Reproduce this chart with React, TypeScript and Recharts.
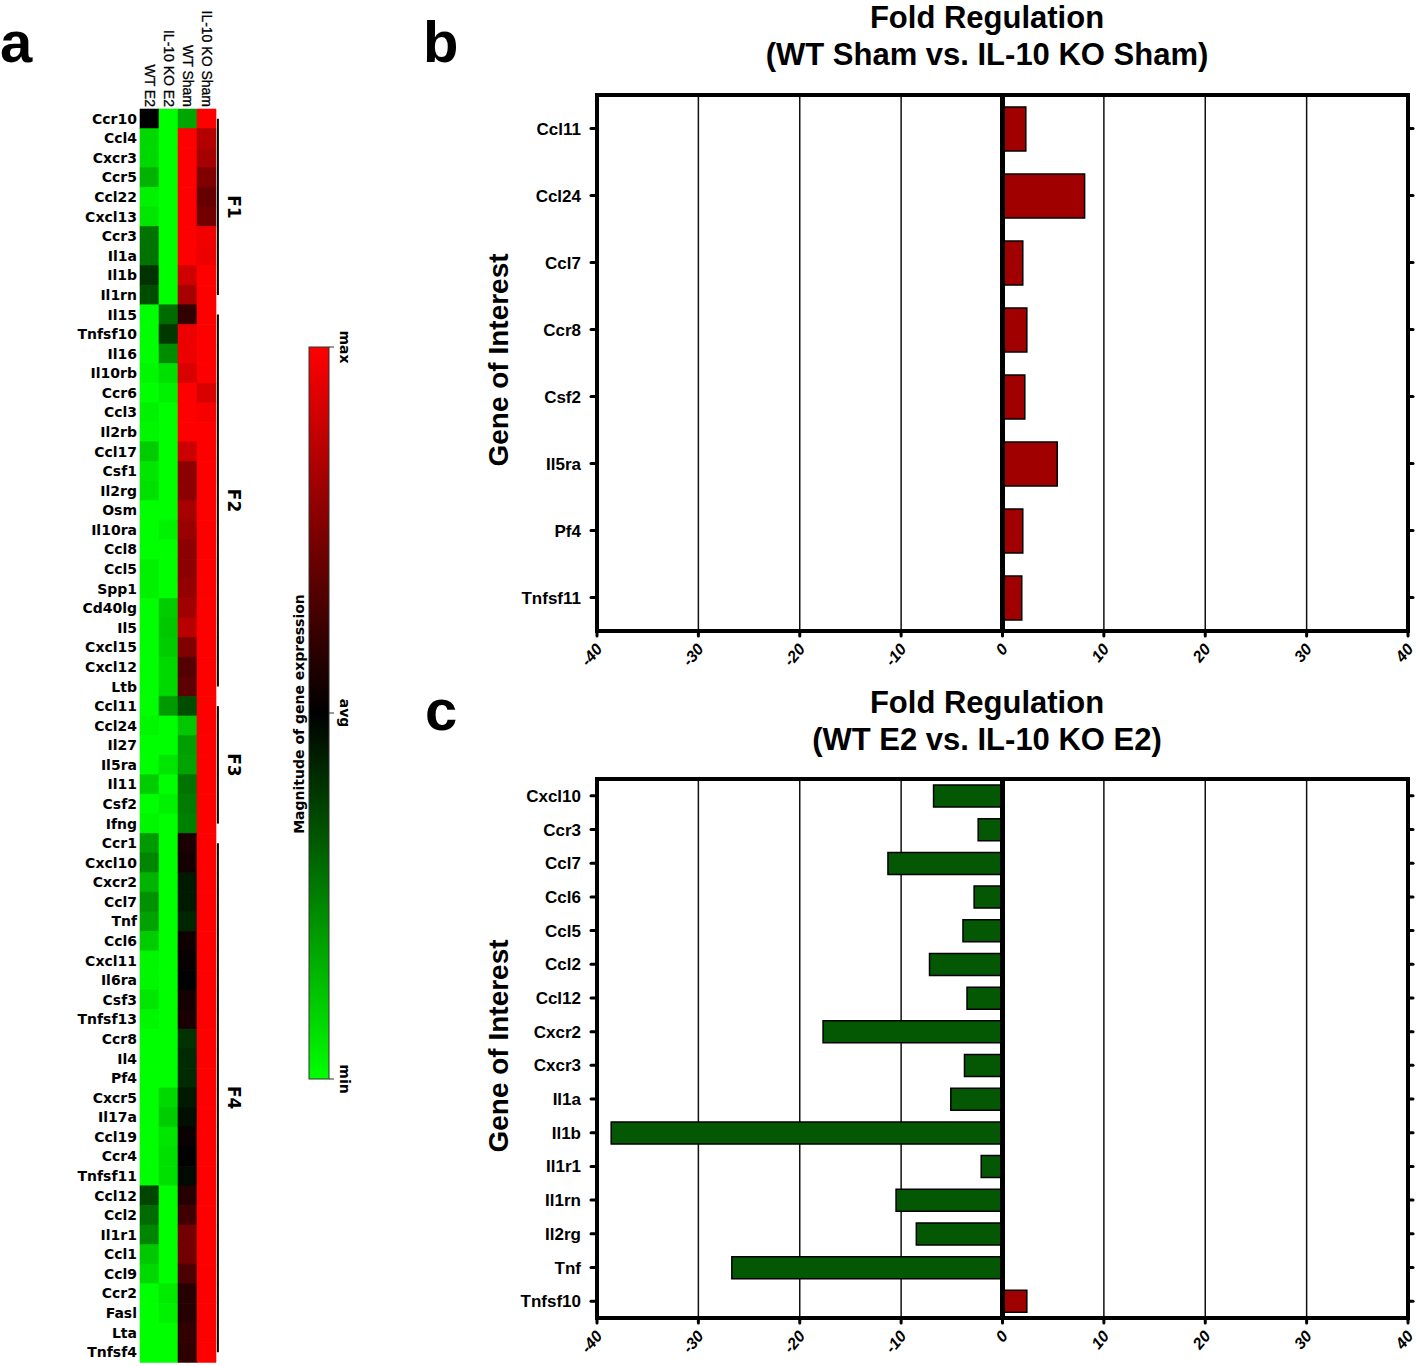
import React from 'react';
import { BarChart, Bar, XAxis, YAxis, CartesianGrid, ReferenceLine, Cell } from 'recharts';

// ---------- Panel a: heatmap data ----------
const heatGenes = [
  'Ccr10', 'Ccl4', 'Cxcr3', 'Ccr5', 'Ccl22', 'Cxcl13', 'Ccr3', 'Il1a', 'Il1b', 'Il1rn',
  'Il15', 'Tnfsf10', 'Il16', 'Il10rb', 'Ccr6', 'Ccl3', 'Il2rb', 'Ccl17', 'Csf1', 'Il2rg',
  'Osm', 'Il10ra', 'Ccl8', 'Ccl5', 'Spp1', 'Cd40lg', 'Il5', 'Cxcl15', 'Cxcl12', 'Ltb',
  'Ccl11', 'Ccl24', 'Il27', 'Il5ra', 'Il11', 'Csf2', 'Ifng',
  'Ccr1', 'Cxcl10', 'Cxcr2', 'Ccl7', 'Tnf', 'Ccl6', 'Cxcl11', 'Il6ra', 'Csf3', 'Tnfsf13',
  'Ccr8', 'Il4', 'Pf4', 'Cxcr5', 'Il17a', 'Ccl19', 'Ccr4', 'Tnfsf11', 'Ccl12', 'Ccl2',
  'Il1r1', 'Ccl1', 'Ccl9', 'Ccr2', 'Fasl', 'Lta', 'Tnfsf4',
];
const heatColumns = ['WT E2', 'IL-10 KO E2', 'WT Sham', 'IL-10 KO Sham'];
// relative expression: -1 = min (green), 0 = avg (black), 1 = max (red)
const wtE2 = [
  0, -0.85, -0.85, -0.7, -0.95, -0.9, -0.45, -0.45, -0.2, -0.3,
  -1, -1, -1, -0.97, -1, -0.95, -0.97, -0.8, -0.9, -0.88,
  -1, -1, -1, -0.95, -0.95, -1, -1, -1, -1, -1,
  -1, -0.97, -1, -1, -0.8, -1, -0.97,
  -0.6, -0.52, -0.7, -0.57, -0.63, -0.8, -0.97, -0.97, -0.9, -0.97,
  -1, -1, -1, -1, -1, -1, -1, -1, -0.27, -0.42,
  -0.52, -0.78, -0.85, -1, -1, -1, -1,
];
const koE2 = [
  -1, -1, -1, -1, -1, -1, -1, -1, -1, -1,
  -0.42, -0.22, -0.55, -0.88, -0.95, -1, -1, -1, -1, -1,
  -1, -0.95, -1, -1, -1, -0.8, -0.78, -0.8, -0.85, -0.85,
  -0.6, -1, -1, -0.9, -1, -0.95, -1,
  -1, -1, -1, -1, -1, -1, -1, -1, -1, -1,
  -1, -1, -1, -0.85, -0.8, -0.9, -0.88, -0.88, -1, -1,
  -1, -1, -1, -0.92, -0.95, -1, -1,
];
const wtSham = [
  -0.65, 1, 1, 1, 1, 1, 1, 1, 0.82, 0.65,
  0.2, 0.93, 0.93, 0.85, 1, 1, 1, 0.8, 0.55, 0.55,
  0.65, 0.6, 0.55, 0.55, 0.58, 0.63, 0.72, 0.5, 0.33, 0.36,
  -0.3, -0.78, -0.62, -0.64, -0.45, -0.48, -0.5,
  0.1, 0.08, -0.1, -0.1, -0.15, 0.06, 0.03, 0, 0.08, 0.1,
  -0.2, -0.17, -0.17, -0.1, -0.06, 0.04, 0, -0.04, 0.15, 0.25,
  0.45, 0.45, 0.3, 0.15, 0.15, 0.2, 0.18,
];
const koSham = [
  1, 0.7, 0.65, 0.5, 0.4, 0.45, 0.95, 0.93, 1, 1,
  1, 1, 1, 1, 0.85, 0.97, 1, 1, 1, 1,
  1, 1, 1, 1, 1, 1, 1, 1, 1, 1,
  1, 1, 1, 1, 1, 1, 1,
  1, 1, 1, 1, 1, 1, 1, 1, 1, 1,
  1, 1, 1, 1, 1, 1, 1, 1, 1, 1,
  1, 1, 1, 1, 1, 1, 1,
];
const clusterNames = ['F1', 'F2', 'F3', 'F4'];
const clusterFirst = ['Ccr10', 'Il15', 'Ccl11', 'Ccr1'];
const clusterLast = ['Il1rn', 'Ltb', 'Ifng', 'Tnfsf4'];
const legendLabels = ['max', 'avg', 'min'];

// ---------- Panels b and c ----------
const shamGenes = ['Ccl11', 'Ccl24', 'Ccl7', 'Ccr8', 'Csf2', 'Il5ra', 'Pf4', 'Tnfsf11'];
const shamFold = [2.3, 8.1, 2.0, 2.4, 2.2, 5.4, 2.0, 1.9];
const e2Genes = ['Cxcl10', 'Ccr3', 'Ccl7', 'Ccl6', 'Ccl5', 'Ccl2', 'Ccl12', 'Cxcr2', 'Cxcr3', 'Il1a', 'Il1b', 'Il1r1', 'Il1rn', 'Il2rg', 'Tnf', 'Tnfsf10'];
const e2Fold = [-6.8, -2.4, -11.3, -2.8, -3.9, -7.2, -3.5, -17.7, -3.75, -5.1, -38.6, -2.1, -10.5, -8.5, -26.7, 2.4];
const foldTicks = [-40, -30, -20, -10, 0, 10, 20, 30, 40];

const UP_COLOR = '#a00000';
const DOWN_COLOR = '#045804';

const heatColor = (v: number) =>
  v >= 0 ? `rgb(${Math.round(255 * v)},0,0)` : `rgb(0,${Math.round(-255 * v)},0)`;

const ColumnTick = (props: any) => {
  const { x, y, payload } = props;
  const label = heatColumns[Math.floor(payload.value)];
  return (
    <text
      transform={`translate(${x},${y}) rotate(90)`}
      textAnchor="end"
      dominantBaseline="central"
      fontFamily="Liberation Sans, Arial, sans-serif"
      fontSize={14}
      fill="#000"
      stroke="#000"
      strokeWidth={0.3}
    >
      {label}
    </text>
  );
};

const ClusterLabel = (name: string) => (props: any) => {
  const vb = props.viewBox || {};
  const cx = (vb.x || 0) + 16;
  const cy = (vb.y || 0) + (vb.height || 0) / 2;
  return (
    <text
      transform={`translate(${cx},${cy}) rotate(90)`}
      textAnchor="middle"
      dominantBaseline="central"
      fontFamily="DejaVu Sans, sans-serif"
      fontWeight="bold"
      fontSize={17}
      fill="#000"
    >
      {name}
    </text>
  );
};

function Heatmap() {
  const data = heatGenes.map((g, i) => ({
    gene: g,
    c0: 1,
    c1: 1,
    c2: 1,
    c3: 1,
    v: [wtE2[i], koE2[i], wtSham[i], koSham[i]],
  }));
  return (
    <div style={{ position: 'absolute', left: 0, top: 0 }}>
      <BarChart
        width={250}
        height={1366}
        data={data}
        layout="vertical"
        margin={{ top: 0, right: 34, bottom: 4, left: 0 }}
        barCategoryGap={0}
      >
        <XAxis
          type="number"
          orientation="top"
          domain={[0, 4]}
          ticks={[0.5, 1.5, 2.5, 3.5]}
          interval={0}
          height={109}
          axisLine={false}
          tickLine={false}
          tickSize={0}
          tickMargin={2}
          tick={<ColumnTick />}
        />
        <YAxis
          type="category"
          dataKey="gene"
          width={140}
          interval={0}
          axisLine={false}
          tickLine={false}
          tickSize={0}
          tickMargin={3}
          tick={{ fill: '#000', fontFamily: 'DejaVu Sans, sans-serif', fontWeight: 'bold', fontSize: 14 }}
        />
        {[0, 1, 2, 3].map((k) => (
          <Bar key={k} dataKey={'c' + k} stackId="h" isAnimationActive={false}>
            {data.map((d, i) => (
              <Cell key={i} fill={heatColor(d.v[k])} stroke={heatColor(d.v[k])} strokeWidth={0.6} />
            ))}
          </Bar>
        ))}
        {clusterNames.map((n, i) => (
          <ReferenceLine
            key={n}
            segment={[
              { x: 4.1, y: clusterFirst[i] },
              { x: 4.1, y: clusterLast[i] },
            ]}
            stroke="#000"
            strokeWidth={2}
            ifOverflow="visible"
            label={ClusterLabel(n)}
          />
        ))}
      </BarChart>
    </div>
  );
}

const FoldTick = (props: any) => {
  const { x, y, payload } = props;
  return (
    <text
      transform={`translate(${x + 2},${y + 8}) rotate(-50)`}
      textAnchor="end"
      dominantBaseline="central"
      fontFamily="Liberation Sans, Arial, sans-serif"
      fontWeight="bold"
      fontStyle="italic"
      fontSize={16}
      fill="#000"
    >
      {payload.value}
    </text>
  );
};

const EmptyTick = () => <g />;

const axisLineStyle = { stroke: '#000', strokeWidth: 4, strokeLinecap: 'square' as const };
const tickLineStyle = { stroke: '#000', strokeWidth: 3, strokeLinecap: 'round' as const };

function FoldChart(props: { genes: string[]; values: number[]; top: number; height: number; barSize: number }) {
  const data = props.genes.map((g, i) => ({ gene: g, fold: props.values[i] }));
  return (
    <div style={{ position: 'absolute', left: 430, top: props.top }}>
      <BarChart
        width={988}
        height={props.height}
        data={data}
        layout="vertical"
        margin={{ top: 25, right: 5, bottom: 0, left: 0 }}
        barSize={props.barSize}
        style={{ overflow: 'visible' }}
      >
        <CartesianGrid xAxisId="b" yAxisId="l" horizontal={false} vertical stroke="#111" strokeWidth={1.5} />
        <XAxis
          xAxisId="b"
          type="number"
          domain={[-40, 40]}
          ticks={foldTicks}
          interval={0}
          height={45}
          axisLine={axisLineStyle}
          tickLine={tickLineStyle}
          tickSize={5}
          tick={<FoldTick />}
        />
        <XAxis
          xAxisId="t"
          orientation="top"
          type="number"
          domain={[-40, 40]}
          ticks={foldTicks}
          interval={0}
          height={10}
          axisLine={axisLineStyle}
          tickLine={tickLineStyle}
          tickSize={5}
          tick={<EmptyTick />}
        />
        <YAxis
          yAxisId="l"
          type="category"
          dataKey="gene"
          width={167}
          interval={0}
          axisLine={axisLineStyle}
          tickLine={tickLineStyle}
          tickSize={6}
          tickMargin={10}
          tick={{ fill: '#000', fontFamily: 'Liberation Sans, Arial, sans-serif', fontWeight: 'bold', fontSize: 17 }}
        />
        <YAxis
          yAxisId="r"
          orientation="right"
          type="category"
          dataKey="gene"
          width={5}
          interval={0}
          axisLine={axisLineStyle}
          tickLine={tickLineStyle}
          tickSize={5}
          tick={<EmptyTick />}
        />
        <Bar xAxisId="b" yAxisId="l" dataKey="fold" stroke="#000" strokeWidth={1.5} isAnimationActive={false}>
          {data.map((d, i) => (
            <Cell key={i} fill={d.fold >= 0 ? UP_COLOR : DOWN_COLOR} />
          ))}
        </Bar>
        <ReferenceLine xAxisId="b" yAxisId="l" x={0} stroke="#000" strokeWidth={5} />
      </BarChart>
    </div>
  );
}

const titleFont = { fontFamily: 'Liberation Sans, Arial, sans-serif', fontWeight: 'bold' as const };

function Overlay() {
  return (
    <svg width={1418} height={1366} style={{ position: 'absolute', left: 0, top: 0 }}>
      <defs>
        <linearGradient id="heatGrad" x1="0" y1="0" x2="0" y2="1">
          <stop offset="0%" stopColor="#ff0000" />
          <stop offset="50%" stopColor="#000000" />
          <stop offset="100%" stopColor="#00ff00" />
        </linearGradient>
      </defs>
      {/* panel letters */}
      <text x={0} y={62} fontSize={58} {...titleFont}>a</text>
      <text x={423} y={62} fontSize={58} {...titleFont}>b</text>
      <text x={425} y={730} fontSize={58} {...titleFont}>c</text>

      {/* titles */}
      <text x={987} y={28} fontSize={31} textAnchor="middle" {...titleFont}>Fold Regulation</text>
      <text x={987} y={65} fontSize={31} textAnchor="middle" {...titleFont}>(WT Sham vs. IL-10 KO Sham)</text>
      <text x={987} y={713} fontSize={31} textAnchor="middle" {...titleFont}>Fold Regulation</text>
      <text x={987} y={750} fontSize={31} textAnchor="middle" {...titleFont}>(WT E2 vs. IL-10 KO E2)</text>

      {/* y axis titles */}
      <text transform="translate(498,360) rotate(-90)" textAnchor="middle" dominantBaseline="central" fontSize={28} {...titleFont}>Gene of Interest</text>
      <text transform="translate(498,1046) rotate(-90)" textAnchor="middle" dominantBaseline="central" fontSize={28} {...titleFont}>Gene of Interest</text>

      {/* colour scale legend */}
      <rect x={309} y={347} width={20} height={732} fill="url(#heatGrad)" stroke="#333" strokeWidth={1} />
      {legendLabels.map((l, i) => {
        const y = 347 + (732 * i) / 2;
        return (
          <g key={l}>
            <line x1={329} y1={y} x2={334} y2={y} stroke="#333" strokeWidth={1} />
            <text
              transform={`translate(345,${y}) rotate(90)`}
              textAnchor="middle"
              dominantBaseline="central"
              fontFamily="DejaVu Sans, sans-serif"
              fontWeight="bold"
              fontSize={14}
              fill="#000"
            >
              {l}
            </text>
          </g>
        );
      })}
      <text
        transform="translate(299,714) rotate(-90)"
        textAnchor="middle"
        dominantBaseline="central"
        fontFamily="DejaVu Sans, sans-serif"
        fontWeight="bold"
        fontSize={14}
        fill="#000"
      >
        Magnitude of gene expression
      </text>
    </svg>
  );
}

export default function App() {
  return (
    <div style={{ position: 'absolute', left: 0, top: 0, width: 1418, height: 1366, background: '#fff', overflow: 'hidden' }}>
      <Overlay />
      <Heatmap />
      <FoldChart genes={shamGenes} values={shamFold} top={60} height={616} barSize={44} />
      <FoldChart genes={e2Genes} values={e2Fold} top={744} height={619} barSize={22} />
    </div>
  );
}
